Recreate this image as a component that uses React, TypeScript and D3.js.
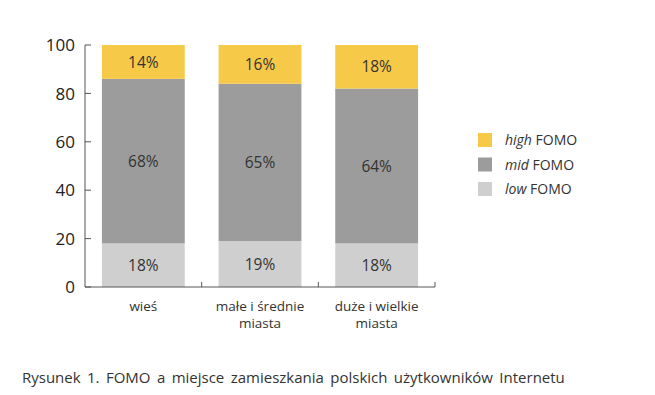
import React from "react";
import * as d3 from "d3";

const categories = ["wieś", "małe i średnie miasta", "duże i wielkie miasta"];
const categoryLines = [["wieś"], ["małe i średnie", "miasta"], ["duże i wielkie", "miasta"]];
const lowValues = [18, 19, 18];
const midValues = [68, 65, 64];
const highValues = [14, 16, 18];
const seriesKeys = ["low", "mid", "high"];
const legendLabels = [["high", " FOMO"], ["mid", " FOMO"], ["low", " FOMO"]];
const yTicks = [0, 20, 40, 60, 80, 100];
const caption = "Rysunek 1. FOMO a miejsce zamieszkania polskich użytkowników Internetu";

const colors: Record<string, string> = {
    low: "#cfcfcf",
    mid: "#9c9c9c",
    high: "#f7c948",
};

const WIDTH = 655;
const HEIGHT = 395;
const FONT = "'Open Sans', sans-serif";

export default function App() {
    const rows = categories.map((c, i) => ({
        category: c,
        low: lowValues[i],
        mid: midValues[i],
        high: highValues[i],
    }));

    const stacked = d3.stack<any>().keys(seriesKeys)(rows);

    const x = d3.scaleBand<string>().domain(categories).range([85, 435]).padding(0);
    const y = d3.scaleLinear().domain([0, 100]).range([287, 45]);

    const barW = x.bandwidth() * 0.71;
    const barOff = (x.bandwidth() - barW) / 2;

    const legendY = d3.scalePoint<string>()
        .domain(legendLabels.map((l) => l[0]))
        .range([140, 189]);

    return (
        <svg width={WIDTH} height={HEIGHT}
            style={{ position: "absolute", left: 0, top: 0, background: "#fff" }}
            fontFamily={FONT}>
            {/* bars */}
            {stacked.map((layer) => (
                <g key={layer.key}>
                    {layer.map((d, i) => {
                        const x0 = (x(categories[i]) ?? 0) + barOff;
                        const y0 = y(d[1]);
                        const h = y(d[0]) - y(d[1]);
                        return (
                            <g key={i}>
                                <rect x={x0} y={y0} width={barW} height={h} fill={colors[layer.key]} />
                                <text x={x0 + barW / 2} y={y0 + h / 2} dy="0.36em"
                                    textAnchor="middle" fontSize={15.5} fill="#333">
                                    {d[1] - d[0]}%
                                </text>
                            </g>
                        );
                    })}
                </g>
            ))}

            {/* y axis */}
            <line x1={85} x2={85} y1={y(100)} y2={y(0)} stroke="#555" strokeWidth={1} />
            {yTicks.map((t) => (
                <g key={t}>
                    <line x1={85} x2={91} y1={y(t)} y2={y(t)} stroke="#555" strokeWidth={1} />
                    <text x={75} y={y(t)} dy="0.36em" textAnchor="end" fontSize={17} fill="#222">{t}</text>
                </g>
            ))}

            {/* x axis */}
            <line x1={85} x2={435} y1={y(0)} y2={y(0)} stroke="#555" strokeWidth={1} />
            {categories.map((c) => {
                const right = (x(c) ?? 0) + x.bandwidth();
                return <line key={c} x1={right} x2={right} y1={y(0)} y2={y(0) - 5} stroke="#555" strokeWidth={1} />;
            })}
            {categoryLines.map((lines, i) => {
                const cx = (x(categories[i]) ?? 0) + x.bandwidth() / 2;
                return lines.map((l, j) => (
                    <text key={`${i}-${j}`} x={cx} y={311 + j * 17}
                        textAnchor="middle" fontSize={13.5} fill="#333">{l}</text>
                ));
            })}

            {/* legend */}
            {legendLabels.map(([k, rest]) => (
                <g key={k} transform={`translate(478,${legendY(k)})`}>
                    <rect x={0} y={-7} width={14} height={14} fill={colors[k]} />
                    <text x={27} y={0} dy="0.36em" fontSize={14} fill="#333">
                        <tspan fontStyle="italic">{k}</tspan>{rest}
                    </text>
                </g>
            ))}

            {/* caption */}
            <text x={22} y={383} fontSize={15} fill="#333" wordSpacing={2.5}>{caption}</text>
        </svg>
    );
}
